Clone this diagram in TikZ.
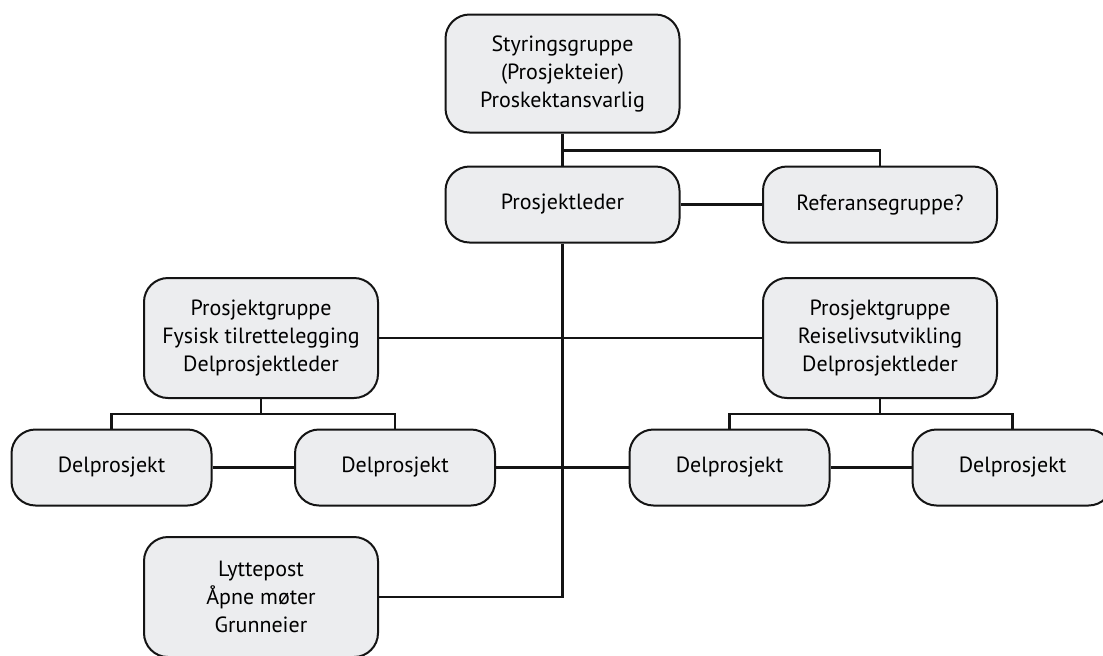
\documentclass[tikz,border=0pt]{standalone}
\usepackage{fontspec}
\setmainfont{PT Sans}
\usepackage{tikz}
\usetikzlibrary{positioning,calc}
\definecolor{boksgraa}{HTML}{ECEDEF}
\definecolor{strek}{HTML}{141414}
\tikzset{
  boks/.style={draw=strek,line width=1pt,rounded corners=12pt,fill=boksgraa,
    align=center,minimum width=117pt,minimum height=38pt,inner sep=2pt,
    font=\fontsize{11pt}{14pt}\selectfont},
  boksstor/.style={boks,minimum height=60pt},
  boksliten/.style={boks,minimum width=100pt},
  linje/.style={draw=strek,line width=1.1pt}
}
\begin{document}
\begin{tikzpicture}[x=0.5pt,y=-0.5pt]
\useasboundingbox (0,0) rectangle (1103,655);
\node[boks,minimum height=59pt] (sg) at (562.5,73.5) {Styringsgruppe\\(Prosjekteier)\\Proskektansvarlig};
\node[boks] (pl) at (562.5,204.5) {Prosjektleder};
\node[boks] (ref) at (880,204.5) {Referansegruppe?};
\node[boksstor] (pgl) at (261,338) {Prosjektgruppe\\Fysisk tilrettelegging\\Delprosjektleder};
\node[boksstor] (pgr) at (880,338) {Prosjektgruppe\\Reiselivsutvikling\\Delprosjektleder};
\node[boksliten] (d1) at (111.5,467.5) {Delprosjekt};
\node[boksliten] (d2) at (395,467.5) {Delprosjekt};
\node[boksliten] (d3) at (729.5,467.5) {Delprosjekt};
\node[boksliten] (d4) at (1012.5,467.5) {Delprosjekt};
\node[boksstor] (ly) at (261,597) {Lyttepost\\Åpne møter\\Grunneier};
% forgreningspunkter
\coordinate (jsg) at ($(sg.south)+(0,17)$);
\coordinate (jl) at ($(pgl.south)+(0,15)$);
\coordinate (jr) at ($(pgr.south)+(0,15)$);
\draw[linje] (sg.south)--(pl.north);
\draw[linje] (jsg)-|(ref.north);
\draw[linje] (pl.east)--(ref.west);
\draw[linje] (pl.south)|-(ly.east);
\draw[linje] (pgl.east)--(pgr.west);
\draw[linje] (pgl.south)--(jl);
\draw[linje] (jl)-|(d1.north);
\draw[linje] (jl)-|(d2.north);
\draw[linje] (pgr.south)--(jr);
\draw[linje] (jr)-|(d3.north);
\draw[linje] (jr)-|(d4.north);
\draw[linje] (d1.east)--(d2.west);
\draw[linje] (d2.east)--(d3.west);
\draw[linje] (d3.east)--(d4.west);
\end{tikzpicture}
\end{document}
